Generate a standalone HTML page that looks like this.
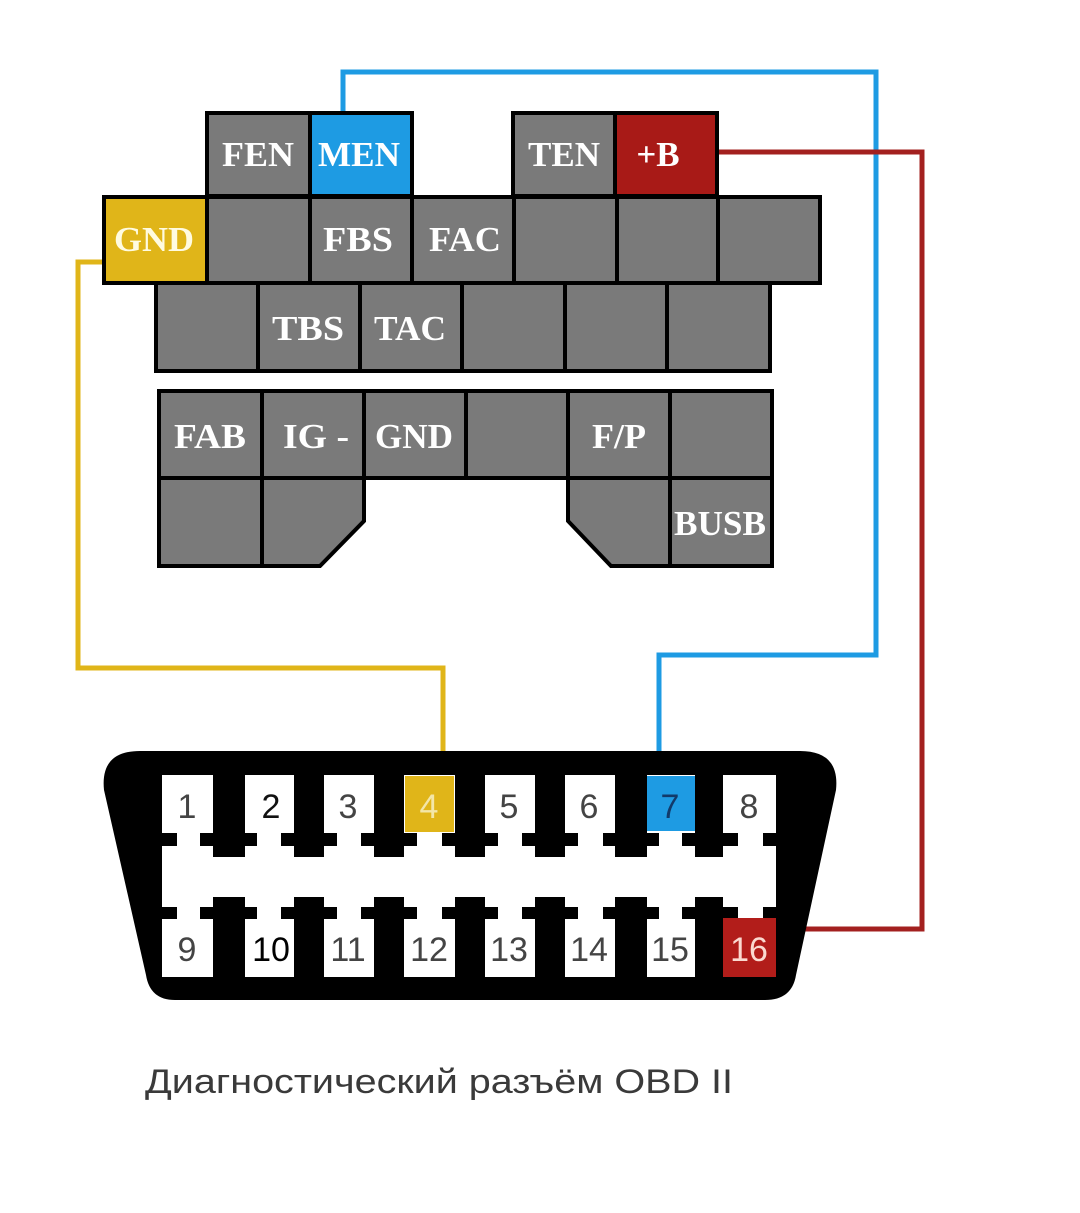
<!DOCTYPE html>
<html><head><meta charset="utf-8"><style>
html,body{margin:0;padding:0;background:#fff;}
svg{display:block;}
</style></head><body>
<svg width="1080" height="1213" viewBox="0 0 1080 1213" xmlns="http://www.w3.org/2000/svg">
<rect width="1080" height="1213" fill="#fff"/>
<!-- wires -->
<polyline points="343,114 343,72 876,72 876,655 659,655 659,780" fill="none" stroke="#1e9be3" stroke-width="5"/>
<polyline points="715,152 922,152 922,929 770,929" fill="none" stroke="#a3201f" stroke-width="5"/>
<polyline points="106,262 78,262 78,668 443,668 443,780" fill="none" stroke="#e0b519" stroke-width="5"/>

<g stroke="#000" stroke-width="4" fill="#7a7a7a">
<!-- row1 -->
<rect x="207" y="113" width="103" height="83"/>
<rect x="310" y="113" width="102" height="83" fill="#1e9be3"/>
<rect x="513" y="113" width="102" height="83"/>
<rect x="615" y="113" width="102" height="83" fill="#a81a17"/>
<!-- row2 -->
<rect x="104" y="197" width="103" height="86" fill="#e0b519"/>
<rect x="207" y="197" width="103" height="86"/>
<rect x="310" y="197" width="102" height="86"/>
<rect x="412" y="197" width="102" height="86"/>
<rect x="514" y="197" width="103" height="86"/>
<rect x="617" y="197" width="101" height="86"/>
<rect x="718" y="197" width="102" height="86"/>
<!-- row3 -->
<rect x="156" y="283" width="102" height="88"/>
<rect x="258" y="283" width="102" height="88"/>
<rect x="360" y="283" width="102" height="88"/>
<rect x="462" y="283" width="103" height="88"/>
<rect x="565" y="283" width="102" height="88"/>
<rect x="667" y="283" width="103" height="88"/>
<!-- row4 -->
<rect x="159" y="391" width="103" height="87"/>
<rect x="262" y="391" width="102" height="87"/>
<rect x="364" y="391" width="102" height="87"/>
<rect x="466" y="391" width="102" height="87"/>
<rect x="568" y="391" width="102" height="87"/>
<rect x="670" y="391" width="102" height="87"/>
<!-- row5 -->
<rect x="159" y="478" width="103" height="88"/>
<polygon points="262,478 364,478 364,521 320,566 262,566"/>
<polygon points="568,478 670,478 670,566 611,566 568,521"/>
<rect x="670" y="478" width="102" height="88"/>
</g>

<g font-family="'Liberation Serif',serif" font-weight="bold" font-size="35" fill="#fff" text-anchor="middle">
<text x="258" y="166" textLength="72" lengthAdjust="spacingAndGlyphs">FEN</text>
<text x="359" y="166" textLength="82" lengthAdjust="spacingAndGlyphs">MEN</text>
<text x="564" y="166" textLength="72" lengthAdjust="spacingAndGlyphs">TEN</text>
<text x="658" y="166">+B</text>
<text x="154" y="251" fill="#fffbe0" textLength="80" lengthAdjust="spacingAndGlyphs">GND</text>
<text x="358" y="251" textLength="70" lengthAdjust="spacingAndGlyphs">FBS</text>
<text x="465" y="251" textLength="72" lengthAdjust="spacingAndGlyphs">FAC</text>
<text x="308" y="340" textLength="72" lengthAdjust="spacingAndGlyphs">TBS</text>
<text x="410" y="340" textLength="72" lengthAdjust="spacingAndGlyphs">TAC</text>
<text x="210" y="448" textLength="72" lengthAdjust="spacingAndGlyphs">FAB</text>
<text x="316" y="448" textLength="66" lengthAdjust="spacingAndGlyphs">IG -</text>
<text x="414" y="448" textLength="78" lengthAdjust="spacingAndGlyphs">GND</text>
<text x="619" y="448" textLength="54" lengthAdjust="spacingAndGlyphs">F/P</text>
<text x="720" y="535" textLength="92" lengthAdjust="spacingAndGlyphs">BUSB</text>
</g>

<!-- OBD connector -->
<path d="M140,751 L800,751 Q840,751 836,790 L796,975 Q792,1000 765,1000 L175,1000 Q150,1000 146,975 L104,790 Q100,751 140,751 Z" fill="#000"/>
<rect x="162" y="775" width="614" height="202" fill="#fff"/>
<g fill="#000">
<!-- top bars -->
<rect x="213" y="775" width="32" height="82"/>
<rect x="294" y="775" width="30" height="82"/>
<rect x="374" y="775" width="30" height="82"/>
<rect x="455" y="775" width="30" height="82"/>
<rect x="535" y="775" width="30" height="82"/>
<rect x="615" y="775" width="32" height="82"/>
<rect x="695" y="775" width="28" height="82"/>
<rect x="200" y="833" width="57" height="13"/>
<rect x="281" y="833" width="56" height="13"/>
<rect x="361" y="833" width="56" height="13"/>
<rect x="442" y="833" width="56" height="13"/>
<rect x="522" y="833" width="56" height="13"/>
<rect x="603" y="833" width="56" height="13"/>
<rect x="682" y="833" width="56" height="13"/>
<rect x="162" y="833" width="15" height="13"/>
<rect x="763" y="833" width="13" height="13"/>
<!-- bottom bars -->
<rect x="213" y="897" width="32" height="80"/>
<rect x="294" y="897" width="30" height="80"/>
<rect x="374" y="897" width="30" height="80"/>
<rect x="455" y="897" width="30" height="80"/>
<rect x="535" y="897" width="30" height="80"/>
<rect x="615" y="897" width="32" height="80"/>
<rect x="695" y="897" width="28" height="80"/>
<rect x="200" y="907" width="57" height="12"/>
<rect x="281" y="907" width="56" height="12"/>
<rect x="361" y="907" width="56" height="12"/>
<rect x="442" y="907" width="56" height="12"/>
<rect x="522" y="907" width="56" height="12"/>
<rect x="603" y="907" width="56" height="12"/>
<rect x="682" y="907" width="56" height="12"/>
<rect x="162" y="907" width="15" height="12"/>
<rect x="763" y="907" width="13" height="12"/>
</g>
<rect x="405" y="776" width="49" height="56" fill="#e0b519"/>
<rect x="647" y="776" width="48" height="55" fill="#1e9be3"/>
<rect x="723" y="918" width="53" height="59" fill="#b21d1a"/>

<g font-family="'Liberation Sans',sans-serif" font-size="34" fill="#444" text-anchor="middle">
<text x="187" y="818">1</text>
<text x="271" y="818" fill="#111">2</text>
<text x="348" y="818">3</text>
<text x="429" y="818" fill="#f3e6a8">4</text>
<text x="509" y="818">5</text>
<text x="589" y="818">6</text>
<text x="670" y="818" fill="#123a6a">7</text>
<text x="749" y="818">8</text>
<text x="187" y="961">9</text>
<text x="271" y="961" fill="#000">10</text>
<text x="348" y="961">11</text>
<text x="429" y="961">12</text>
<text x="509" y="961">13</text>
<text x="589" y="961">14</text>
<text x="670" y="961">15</text>
<text x="749" y="961" fill="#fbd9d0">16</text>
</g>

<text x="145" y="1093" font-family="'Liberation Sans',sans-serif" font-size="34" fill="#3a3a3a" textLength="588" lengthAdjust="spacingAndGlyphs">Диагностический разъём OBD II</text>
</svg>
</body></html>
